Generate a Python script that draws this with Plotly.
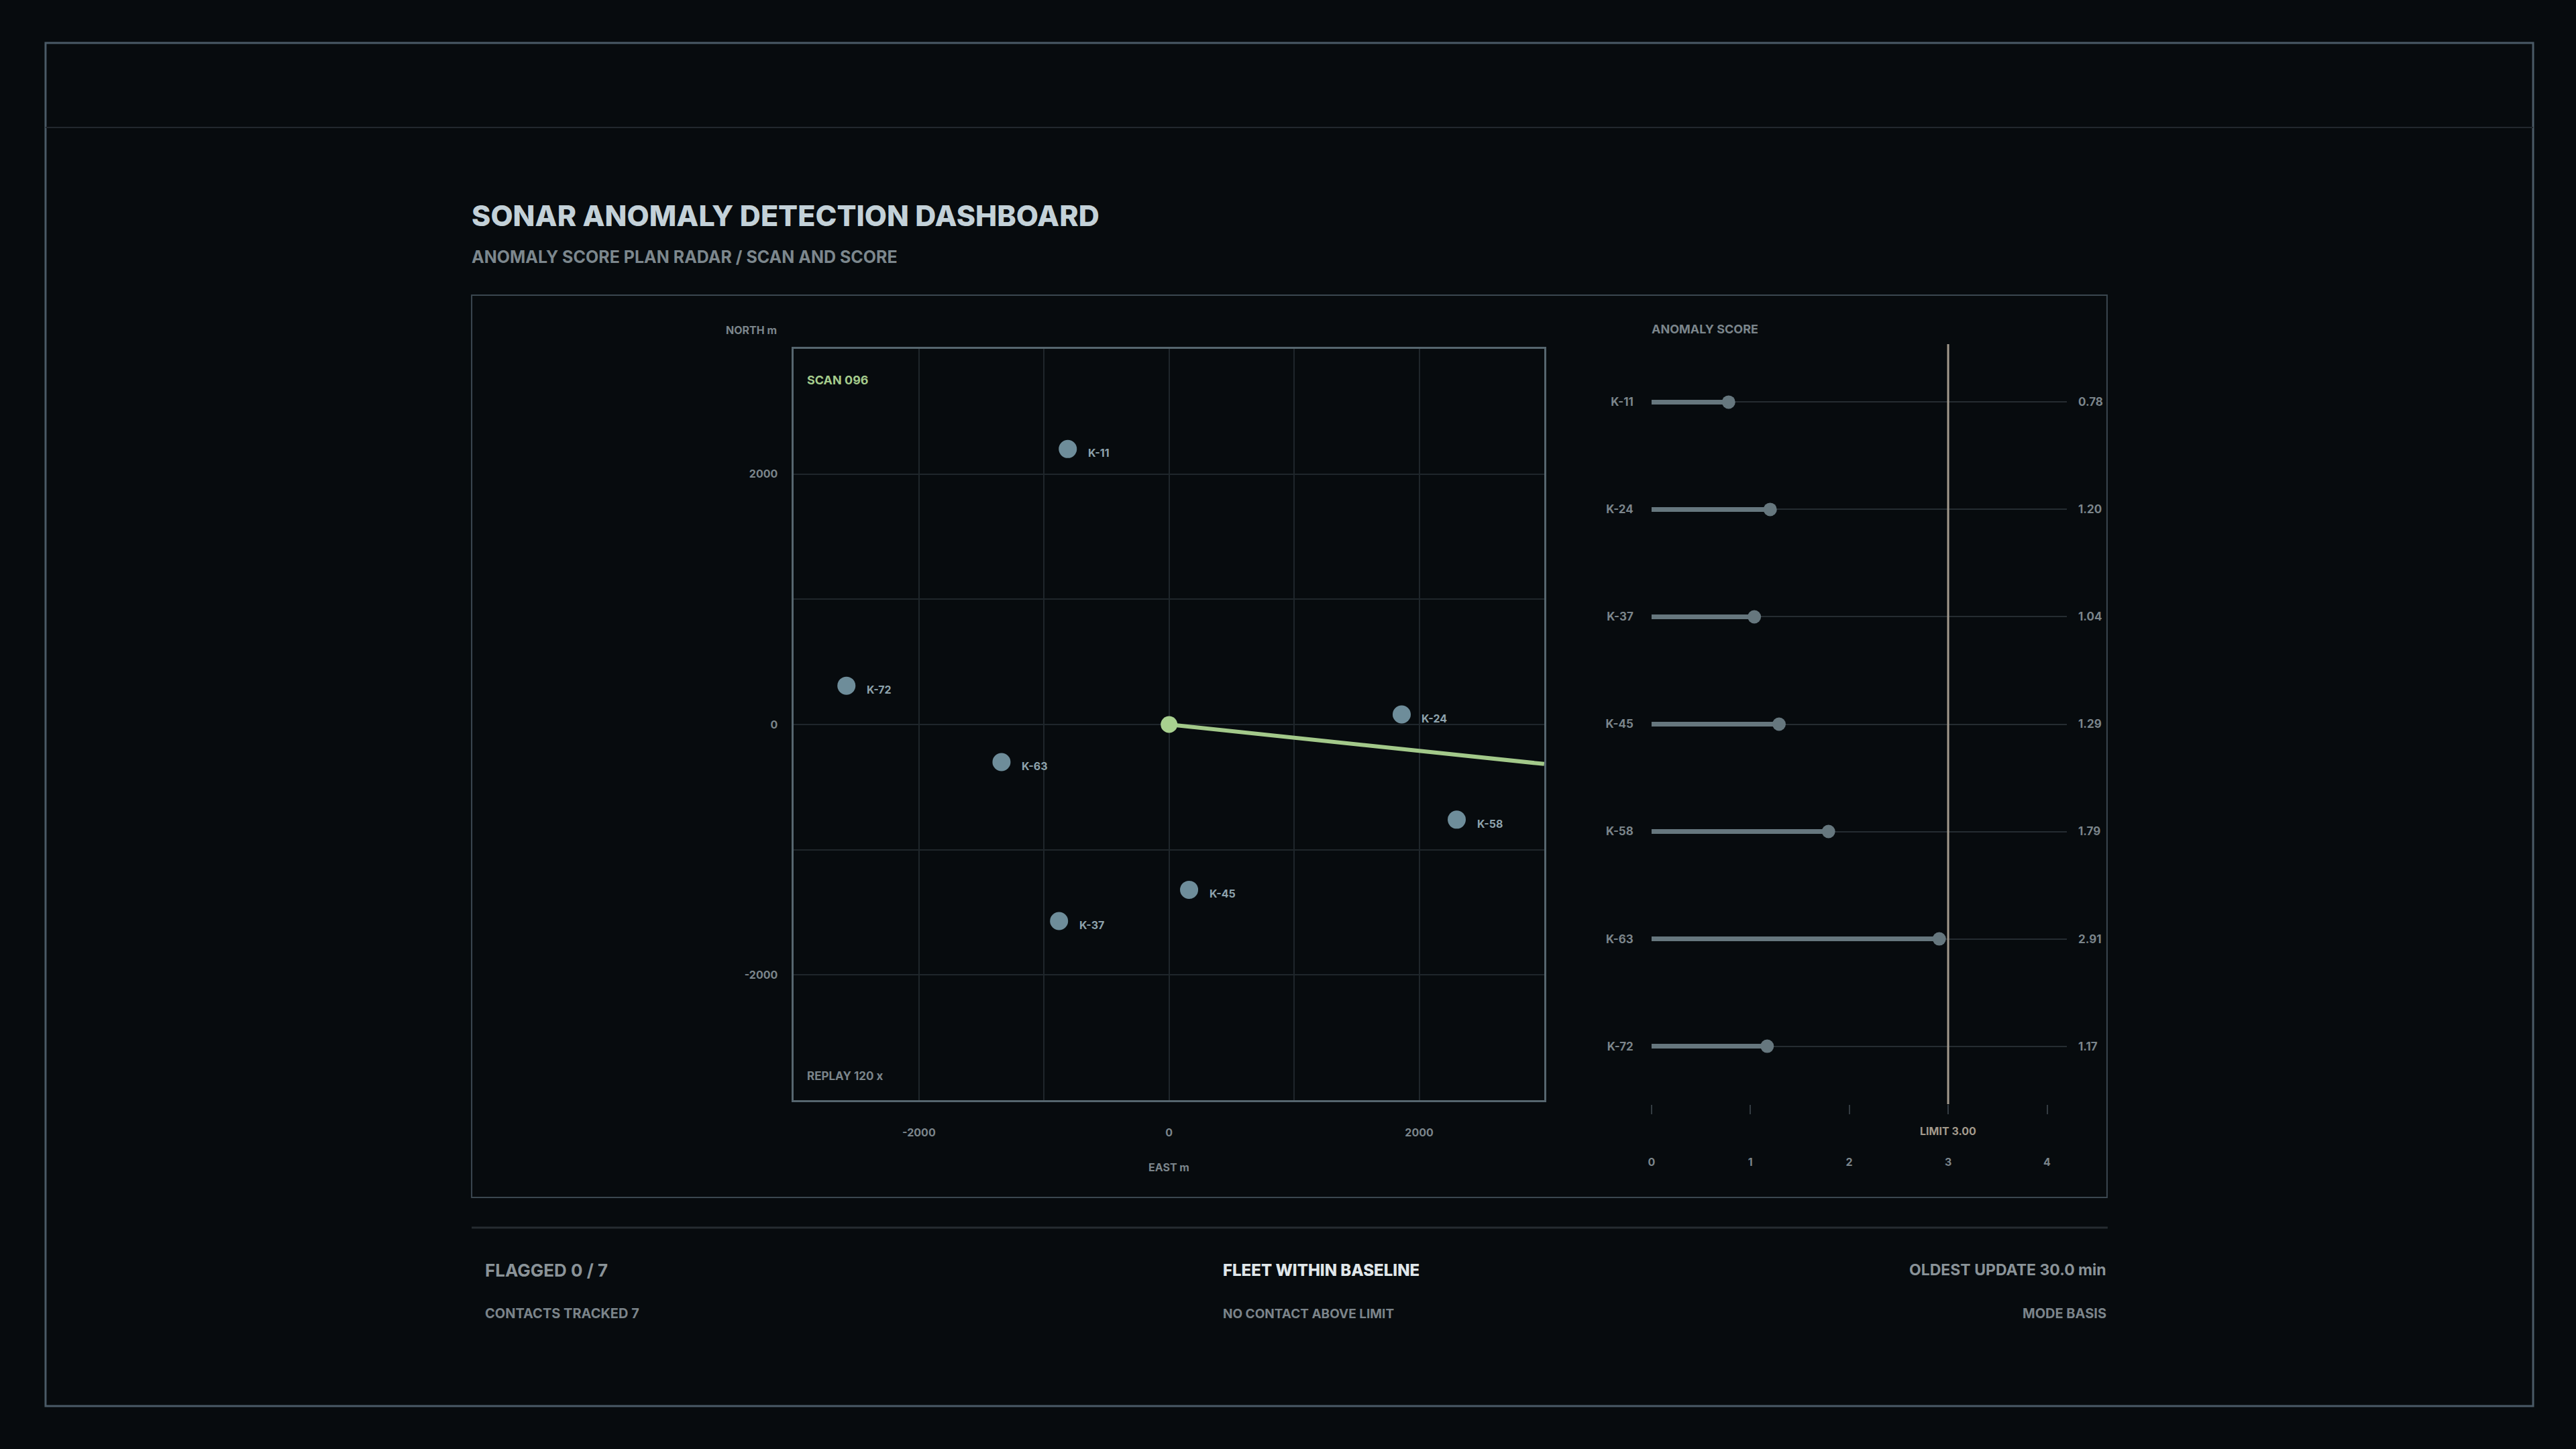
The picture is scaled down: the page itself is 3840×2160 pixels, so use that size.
import math
import plotly.graph_objects as go

# ---------------- data ----------------
contacts = ["K-11", "K-24", "K-37", "K-45", "K-58", "K-63", "K-72"]
east_m = [-810, 1860, -880, 160, 2300, -1340, -2580]
north_m = [2200, 80, -1570, -1320, -760, -300, 310]
scores = [0.78, 1.20, 1.04, 1.29, 1.79, 2.91, 1.17]
score_limit = 3.0
scan_bearing_deg = 96
sweep_radius = 3016
radar_ticks = [-2000, 0, 2000]
radar_tick_labels = ["-2000", "0", "2000"]
score_ticks = [0, 1, 2, 3, 4]

W, H = 3840, 2160
BG = "#070b0e"
FONT = "Inter"


def px(x):
    return x / W


def py(y):
    return 1 - y / H


bx = sweep_radius * math.sin(math.radians(scan_bearing_deg))
by = sweep_radius * math.cos(math.radians(scan_bearing_deg))

fig = go.Figure()

# sweep line
fig.add_trace(go.Scatter(x=[0, bx], y=[0, by], mode="lines",
                         line=dict(color="#a3c98a", width=6),
                         xaxis="x", yaxis="y", hoverinfo="skip", showlegend=False))
# contacts
fig.add_trace(go.Scatter(x=east_m, y=north_m, mode="markers",
                         marker=dict(size=27, color="#6e8d9a"),
                         xaxis="x", yaxis="y", showlegend=False, cliponaxis=False))
# origin
fig.add_trace(go.Scatter(x=[0], y=[0], mode="markers",
                         marker=dict(size=25, color="#a8d08f"),
                         xaxis="x", yaxis="y", showlegend=False))

# lollipops
rows = list(range(len(contacts)))
lx, ly = [], []
for i, s in zip(rows, scores):
    lx += [0, s, None]
    ly += [i, i, None]
fig.add_trace(go.Scatter(x=lx, y=ly, mode="lines",
                         line=dict(color="#66777e", width=7),
                         xaxis="x2", yaxis="y2", showlegend=False, hoverinfo="skip"))
fig.add_trace(go.Scatter(x=scores, y=rows, mode="markers",
                         marker=dict(size=20, color="#66777e"),
                         xaxis="x2", yaxis="y2", showlegend=False))
fig.add_trace(go.Scatter(x=scores, y=rows, mode="markers",
                         marker=dict(size=1, opacity=0),
                         xaxis="x2", yaxis="y3", showlegend=False, hoverinfo="skip"))

tickfont = dict(family=FONT, size=16, color="#7b858b", weight=700)
rowfont = dict(family=FONT, size=17, color="#7b858b", weight=700)

fig.update_layout(
    width=W, height=H,
    margin=dict(l=0, r=0, t=0, b=0),
    paper_bgcolor=BG, plot_bgcolor=BG,
    showlegend=False,
    xaxis=dict(domain=[px(1180), px(2300)], range=[-3000, 3000],
               tickvals=radar_ticks, ticktext=radar_tick_labels, ticks="", tickfont=tickfont,
               ticklabelstandoff=32,
               showgrid=True, gridcolor="#1f262b", gridwidth=2,
               minor=dict(dtick=1000, tick0=0, showgrid=True, gridcolor="#1f262b", gridwidth=2),
               zeroline=False, showline=True, mirror=True, linecolor="#56666f", linewidth=3,
               anchor="y", fixedrange=True),
    yaxis=dict(domain=[py(1640), py(520)], range=[-3000, 3000],
               tickvals=radar_ticks, ticktext=radar_tick_labels, ticks="", tickfont=tickfont,
               ticklabelstandoff=18,
               showgrid=True, gridcolor="#1f262b", gridwidth=2,
               minor=dict(dtick=1000, tick0=0, showgrid=True, gridcolor="#1f262b", gridwidth=2),
               zeroline=False, showline=True, mirror=True, linecolor="#56666f", linewidth=3,
               anchor="x", fixedrange=True),
    xaxis2=dict(domain=[px(2460), px(3080)], range=[0, 4.2],
                tickvals=score_ticks, ticks="outside", ticklen=14, tickwidth=2, tickcolor="#333b41",
                tickfont=tickfont, ticklabelstandoff=58,
                showgrid=False, zeroline=False, showline=False, anchor="y2", fixedrange=True),
    yaxis2=dict(domain=[py(1646), py(513)], range=[6.54, -0.54],
                tickvals=rows, ticktext=contacts, ticks="", tickfont=rowfont,
                ticklabelstandoff=26,
                showgrid=True, gridcolor="#252c31", gridwidth=2,
                zeroline=False, showline=False, anchor="x2", fixedrange=True),
    yaxis3=dict(domain=[py(1646), py(513)], range=[6.54, -0.54], overlaying="y2", side="right",
                tickvals=rows, ticktext=[f"{s:.2f}" for s in scores], ticks="", tickfont=rowfont,
                ticklabelstandoff=16, showgrid=False, zeroline=False, showline=False,
                anchor="x2", fixedrange=True),
)

shapes = [
    dict(type="rect", xref="paper", yref="paper", x0=px(63), x1=px(3776), y0=py(2096), y1=py(64),
         line=dict(color="#4a5a66", width=3)),
    dict(type="line", xref="paper", yref="paper", x0=px(63), x1=px(3776), y0=py(190), y1=py(190),
         line=dict(color="#22282d", width=2)),
    dict(type="rect", xref="paper", yref="paper", x0=px(699), x1=px(3140), y0=py(1785), y1=py(440),
         line=dict(color="#3b4750", width=2)),
    dict(type="line", xref="paper", yref="paper", x0=px(699), x1=px(3141), y0=py(1830), y1=py(1830),
         line=dict(color="#262c31", width=3)),
    dict(type="line", xref="x2", yref="y2 domain", x0=score_limit, x1=score_limit, y0=0, y1=1,
         line=dict(color="#a39a8c", width=3), layer="above"),
]
fig.update_layout(shapes=shapes)


def ann(text, x, y, size, color, weight=600, xanchor="left", xref="paper"):
    return dict(text=text, x=x, y=py(y), xref=xref, yref="paper", showarrow=False,
                xanchor=xanchor, yanchor="middle",
                font=dict(family=FONT, size=size, color=color, weight=weight))


annotations = [
    ann("SONAR ANOMALY DETECTION DASHBOARD", px(697), 321, 43, "#c3d1d8", 800),
    ann("ANOMALY SCORE PLAN RADAR / SCAN AND SCORE", px(697), 383, 25, "#7c878d", 700),
    ann("NORTH m", px(1157), 492, 16, "#7b858b", 700, xanchor="right"),
    ann("EAST m", px(1740), 1740, 16, "#7b858b", 700, xanchor="center"),
    ann(f"SCAN {scan_bearing_deg:03d}", px(1198), 567, 18, "#a5cc8c", 700),
    ann("REPLAY 120 x", px(1198), 1604, 17, "#7b858b", 700),
    ann("ANOMALY SCORE", px(2458), 491, 18, "#7b858b", 700),
    ann(f"LIMIT {score_limit:.2f}", score_limit, 1686, 16, "#a39a8c", 700, xanchor="center", xref="x2"),
    ann(f"FLAGGED {sum(s > score_limit for s in scores)} / {len(contacts)}", px(717), 1893, 26, "#8a9398", 700),
    ann(f"CONTACTS TRACKED {len(contacts)}", px(717), 1958, 20, "#7b848a", 700),
    ann("FLEET WITHIN BASELINE", px(1818), 1893, 24, "#e0e7ea", 800),
    ann("NO CONTACT ABOVE LIMIT", px(1818), 1958, 19, "#7b848a", 700),
    ann("OLDEST UPDATE 30.0 min", px(3141), 1893, 23, "#8a9398", 700, xanchor="right"),
    ann("MODE BASIS", px(3141), 1958, 20, "#7b848a", 700, xanchor="right"),
]
# contact labels, placed on the radar axes
for c, e, n in zip(contacts, east_m, north_m):
    annotations.append(dict(text=c, x=e, y=n, xref="x", yref="y", showarrow=False,
                            xanchor="left", yanchor="middle", xshift=28, yshift=-6,
                            font=dict(family=FONT, size=16, color="#8ea3ad", weight=700)))
fig.update_layout(annotations=annotations)

post = ("document.documentElement.style.margin='0';document.body.style.margin='0';"
        "document.body.style.padding='0';document.body.style.overflow='hidden';"
        "document.body.style.background='#070b0e';document.documentElement.style.background='#070b0e';")

fig.write_html("out.html", post_script=post, config={"displayModeBar": False})
